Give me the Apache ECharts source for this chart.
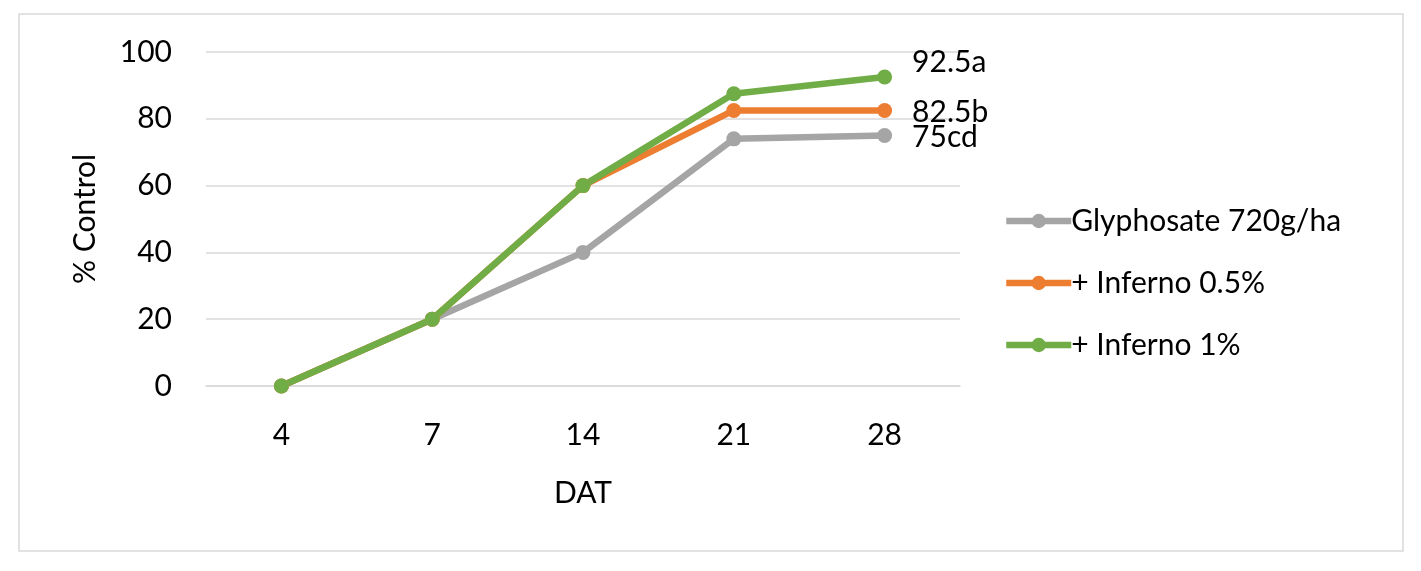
<!DOCTYPE html>
<html>
<head>
<meta charset="utf-8">
<script src="https://cdn.jsdelivr.net/npm/echarts@6/dist/echarts.min.js"></script>
<style>
  html, body { margin: 0; padding: 0; background: #fff; }
  #chart { width: 1421px; height: 571px; }
</style>
</head>
<body>
<div id="chart"></div>
<script>
// 数据
const categories = ['4', '7', '14', '21', '28'];
const seriesNames = ['Glyphosate 720g/ha', '+ Inferno 0.5%', '+ Inferno 1%'];
const glyphosate = [0, 20, 40, 74, 75];
const inferno05 = [0, 20, 60, 82.5, 82.5];
const inferno1 = [0, 20, 60, 87.5, 92.5];
const endLabels = ['75cd', '82.5b', '92.5a'];
const yTicks = [0, 20, 40, 60, 80, 100];

const colors = ['#A5A5A5', '#ED7D31', '#70AD47'];
const labelOffsets = [[0, 2], [0, 2], [0, -15]];
const font = 'Lato';

function makeSeries(idx, values) {
  const data = values.map((v, i) => {
    if (i !== values.length - 1) return v;
    return {
      value: v,
      label: {
        show: true,
        position: 'right',
        distance: 20,
        offset: labelOffsets[idx],
        formatter: endLabels[idx],
        color: '#000',
        fontFamily: font,
        fontSize: 30
      }
    };
  });
  return {
    name: seriesNames[idx],
    type: 'line',
    data: data,
    symbol: 'circle',
    symbolSize: 15,
    lineStyle: { width: 6.5, color: colors[idx] },
    itemStyle: { color: colors[idx] },
    emphasis: { disabled: true },
    animation: false
  };
}

const myChart = echarts.init(document.getElementById('chart'));
myChart.setOption({
  backgroundColor: '#fff',
  graphic: [{
    type: 'rect',
    shape: { x: 19, y: 14, width: 1384, height: 537 },
    style: { fill: 'none', stroke: '#D9D9D9', lineWidth: 1.5 },
    silent: true
  }],
  grid: { left: 206, right: 461, top: 52, bottom: 185 },
  legend: {
    orient: 'vertical',
    left: 1003,
    top: 206,
    padding: 0,
    itemWidth: 65,
    itemHeight: 18,
    itemGap: 32,
    lineStyle: { width: 6.5 },
    textStyle: { color: '#000', fontFamily: font, fontSize: 30, padding: [0, 0, 0, -5] },
    data: seriesNames
  },
  xAxis: {
    type: 'category',
    data: categories,
    boundaryGap: true,
    name: 'DAT',
    nameLocation: 'middle',
    nameGap: 92,
    nameTextStyle: { color: '#000', fontFamily: font, fontSize: 30 },
    axisLine: { lineStyle: { color: '#D9D9D9', width: 1.5 } },
    axisTick: { show: false },
    axisLabel: { color: '#000', fontFamily: font, fontSize: 30, margin: 34 }
  },
  yAxis: {
    type: 'value',
    min: yTicks[0],
    max: yTicks[yTicks.length - 1],
    interval: 20,
    name: '% Control',
    nameLocation: 'middle',
    nameGap: 106,
    nameTextStyle: { color: '#000', fontFamily: font, fontSize: 30 },
    axisLine: { show: false },
    axisTick: { show: false },
    splitLine: { lineStyle: { color: '#D9D9D9', width: 1.5 } },
    axisLabel: { color: '#000', fontFamily: font, fontSize: 30, margin: 34 }
  },
  series: [
    makeSeries(0, glyphosate),
    makeSeries(1, inferno05),
    makeSeries(2, inferno1)
  ]
});
</script>
</body>
</html>
